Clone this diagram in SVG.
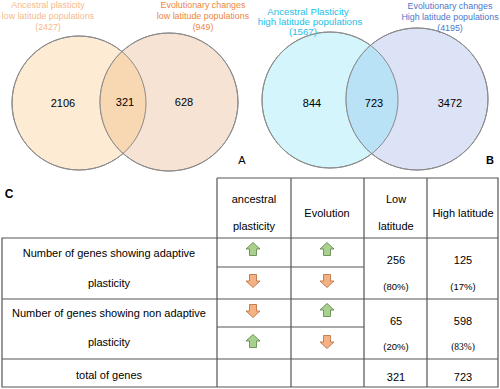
<svg xmlns="http://www.w3.org/2000/svg" width="500" height="389" viewBox="0 0 500 389">
<defs>
<style>
text{font-family:"Liberation Sans",Arial,sans-serif;font-size:11px;fill:#000;text-anchor:middle}
.lbl{font-size:8.9px}
.lblb{font-size:9.7px}
.num{font-size:11px}
.pct{font-size:9.5px}
.circ{stroke:#8a8a8a;stroke-width:1}
.grid{stroke:#555;stroke-width:1.2;fill:none}
.up{fill:#a9d18e;stroke:#5a7d45;stroke-width:0.8}
.dn{fill:#f4b183;stroke:#b5693a;stroke-width:0.8}
.ttl{font-weight:bold;font-size:11px}
</style>
<path id="upA" d="M0,-6.5 L7,0 L3.5,0 L3.5,6.5 L-3.5,6.5 L-3.5,0 L-7,0 Z"/>
<path id="dnA" d="M0,6.5 L7,0 L3.5,0 L3.5,-6.5 L-3.5,-6.5 L-3.5,0 L-7,0 Z"/>
<clipPath id="clipA"><circle cx="79" cy="103" r="67"/></clipPath>
<clipPath id="clipB"><circle cx="330" cy="100" r="68"/></clipPath>
</defs>
<rect width="500" height="389" fill="#fff"/>

<g id="vennA">
<circle class="circ" cx="79" cy="103" r="67" fill="#fdebd4"/>
<circle class="circ" cx="169" cy="102" r="69" fill="#f6e3d3"/>
<circle cx="169" cy="102" r="69" fill="#f8d7b3" clip-path="url(#clipA)"/>
<circle cx="79" cy="103" r="67" fill="none" stroke="#8a8a8a"/>
<circle cx="169" cy="102" r="69" fill="none" stroke="#8a8a8a"/>
<text x="48" y="8" class="lbl" style="fill:#f6bb8c">Ancestral plasticity</text>
<text x="48" y="19" class="lbl" style="fill:#f6bb8c">low latitude populations</text>
<text x="48" y="30" class="lbl" style="fill:#f6bb8c">(2427)</text>
<text x="203" y="8" class="lbl" style="fill:#ee8640">Evolutionary changes</text>
<text x="203" y="19" class="lbl" style="fill:#ee8640">low latitude populations</text>
<text x="203" y="30" class="lbl" style="fill:#ee8640">(949)</text>
<text x="63" y="107" class="num">2106</text>
<text x="125" y="106" class="num">321</text>
<text x="184" y="106" class="num">628</text>
<text x="242" y="164" class="num">A</text>
</g>

<g id="vennB">
<circle class="circ" cx="330" cy="100" r="68" fill="#d4f5fc"/>
<circle class="circ" cx="417" cy="99" r="71" fill="#dce3f6"/>
<circle cx="417" cy="99" r="71" fill="#b9e2f7" clip-path="url(#clipB)"/>
<circle cx="330" cy="100" r="68" fill="none" stroke="#8a8a8a"/>
<circle cx="417" cy="99" r="71" fill="none" stroke="#8a8a8a"/>
<text x="308" y="15" class="lblb" style="fill:#1cc0e8">Ancestral Plasticity</text>
<text x="310" y="25" class="lblb" style="fill:#1cc0e8">high latitude populations</text>
<text x="303" y="35" class="lblb" style="fill:#1cc0e8">(1567)</text>
<text x="450" y="9" class="lbl" style="fill:#4a78cc">Evolutionary changes</text>
<text x="450" y="20" class="lbl" style="fill:#4a78cc">High latitude populations</text>
<text x="450" y="31" class="lbl" style="fill:#4a78cc">(4195)</text>
<text x="312" y="107" class="num">844</text>
<text x="374" y="107" class="num">723</text>
<text x="450" y="107" class="num">3472</text>
<text x="490" y="164" class="ttl">B</text>
</g>

<g id="table">
<text x="9" y="198" class="ttl" style="font-size:12px">C</text>
<path class="grid" d="M217,178 H498 V387 H2 V238 H498 M217,178 V387 M291,178 V387 M364,178 V387 M427,178 V387 M2,299 H498 M2,359 H498 M217,267 H364 M217,327 H364"/>
<text x="254" y="203">ancestral</text>
<text x="254" y="230">plasticity</text>
<text x="327" y="217">Evolution</text>
<text x="396" y="203">Low</text>
<text x="396" y="230">latitude</text>
<text x="463" y="217">High latitude</text>
<text x="109" y="257">Number of genes showing adaptive</text>
<text x="109" y="287">plasticity</text>
<text x="109" y="317">Number of genes showing non adaptive</text>
<text x="109" y="346">plasticity</text>
<text x="109" y="379">total of genes</text>
<text x="396" y="264">256</text>
<text x="396" y="290" class="pct">(80%)</text>
<text x="463" y="264">125</text>
<text x="463" y="290" class="pct">(17%)</text>
<text x="396" y="325">65</text>
<text x="396" y="350" class="pct">(20%)</text>
<text x="463" y="325">598</text>
<text x="463" y="350" class="pct" style="font-family:'Liberation Serif',serif">(83%)</text>
<text x="396" y="381">321</text>
<text x="463" y="381">723</text>
<use href="#upA" class="up" x="253" y="249"/>
<use href="#upA" class="up" x="327" y="249"/>
<use href="#dnA" class="dn" x="253" y="281"/>
<use href="#dnA" class="dn" x="327" y="281"/>
<use href="#dnA" class="dn" x="253" y="311"/>
<use href="#upA" class="up" x="327" y="310"/>
<use href="#upA" class="up" x="253" y="341"/>
<use href="#dnA" class="dn" x="327" y="342"/>
</g>
</svg>
